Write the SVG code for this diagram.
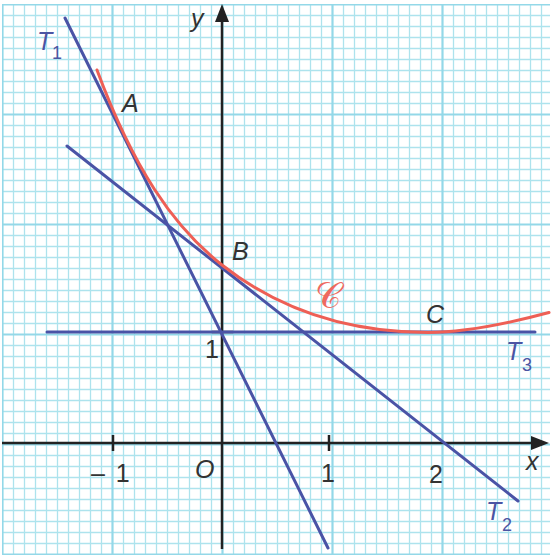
<svg xmlns="http://www.w3.org/2000/svg" width="552" height="558" viewBox="0 0 552 558">
<style>
.lbl{font-family:"Liberation Sans",Arial,sans-serif;font-size:25px;fill:#333}
.it{font-style:italic}
.tan{fill:#4b55a3}
.sub{font-size:18px;font-style:normal}
.tline{stroke:#4a53a6;stroke-width:3;fill:none;stroke-linecap:round}
.axis{stroke:#222;stroke-width:2.5;fill:none}
</style>
<defs>
<pattern id="grid" patternUnits="userSpaceOnUse" x="-3" y="-1" width="110" height="110">
<path d="M16.5 0V110M27.5 0V110M38.5 0V110M49.5 0V110M60.5 0V110M71.5 0V110M82.5 0V110M93.5 0V110M104.5 0V110M0 16.5H110M0 27.5H110M0 38.5H110M0 49.5H110M0 60.5H110M0 71.5H110M0 82.5H110M0 93.5H110M0 104.5H110" stroke="#ade3ed" stroke-width="1.3" fill="none"/>
<path d="M5.5 0V110M0 5.5H110" stroke="#93d8e8" stroke-width="2.2" fill="none"/>
</pattern>
<marker id="arr" viewBox="-9 -8 20 16" markerWidth="20" markerHeight="16" refX="0" refY="0" orient="auto" markerUnits="userSpaceOnUse">
<path d="M10,0 L-8,-7 L-8,7 Z" fill="#222"/>
</marker>
</defs>
<rect width="552" height="558" fill="#fff"/>
<rect id="grid-paper" x="2" y="4" width="548" height="551" fill="url(#grid)"/>
<g id="axes">
<line class="axis" x1="2" y1="443" x2="539" y2="443" marker-end="url(#arr)"/>
<line class="axis" x1="222" y1="549" x2="222" y2="14" marker-end="url(#arr)"/>
<path class="axis" d="M113 435V451M329 435V451M212 332H233"/>
</g>
<g id="connectors">
<line id="T1" class="tline" x1="65" y1="18" x2="328" y2="548"/>
<line id="T2" class="tline" x1="67" y1="146" x2="518" y2="501"/>
<line id="T3" class="tline" x1="47" y1="332" x2="535" y2="332"/>
<path id="curve" d="M97,70 C133,167 172.4,226 222,265 C279.3,310 348,332.5 428,332.5 C459.2,332.5 498.9,326 549,312.5" stroke="#ee5f55" stroke-width="3" fill="none" stroke-linecap="round"/>
</g>
<g id="labels">
<text class="lbl it" x="191" y="27">y</text>
<text class="lbl it" x="526" y="470">x</text>
<text class="lbl it tan" x="37" y="50">T</text>
<text class="lbl tan sub" x="52" y="59">1</text>
<text class="lbl it tan" x="486" y="520">T</text>
<text class="lbl tan sub" x="502" y="531">2</text>
<text class="lbl it tan" x="506" y="360">T</text>
<text class="lbl tan sub" x="522" y="371">3</text>
<text class="lbl it" x="122" y="112">A</text>
<text class="lbl it" x="232" y="260">B</text>
<text class="lbl it" x="426" y="323">C</text>
<text class="lbl" x="315" y="308" style="fill:#ee6a60;font-family:'DejaVu Serif','DejaVu Sans',serif;font-size:36px">𝒞</text>
<text class="lbl" x="205" y="358">1</text>
<text class="lbl it" x="195" y="478">O</text>
<text class="lbl" x="91" y="482" word-spacing="4">– 1</text>
<text class="lbl" x="328" y="482" text-anchor="middle">1</text>
<text class="lbl" x="436" y="483" text-anchor="middle">2</text>
</g>
</svg>
